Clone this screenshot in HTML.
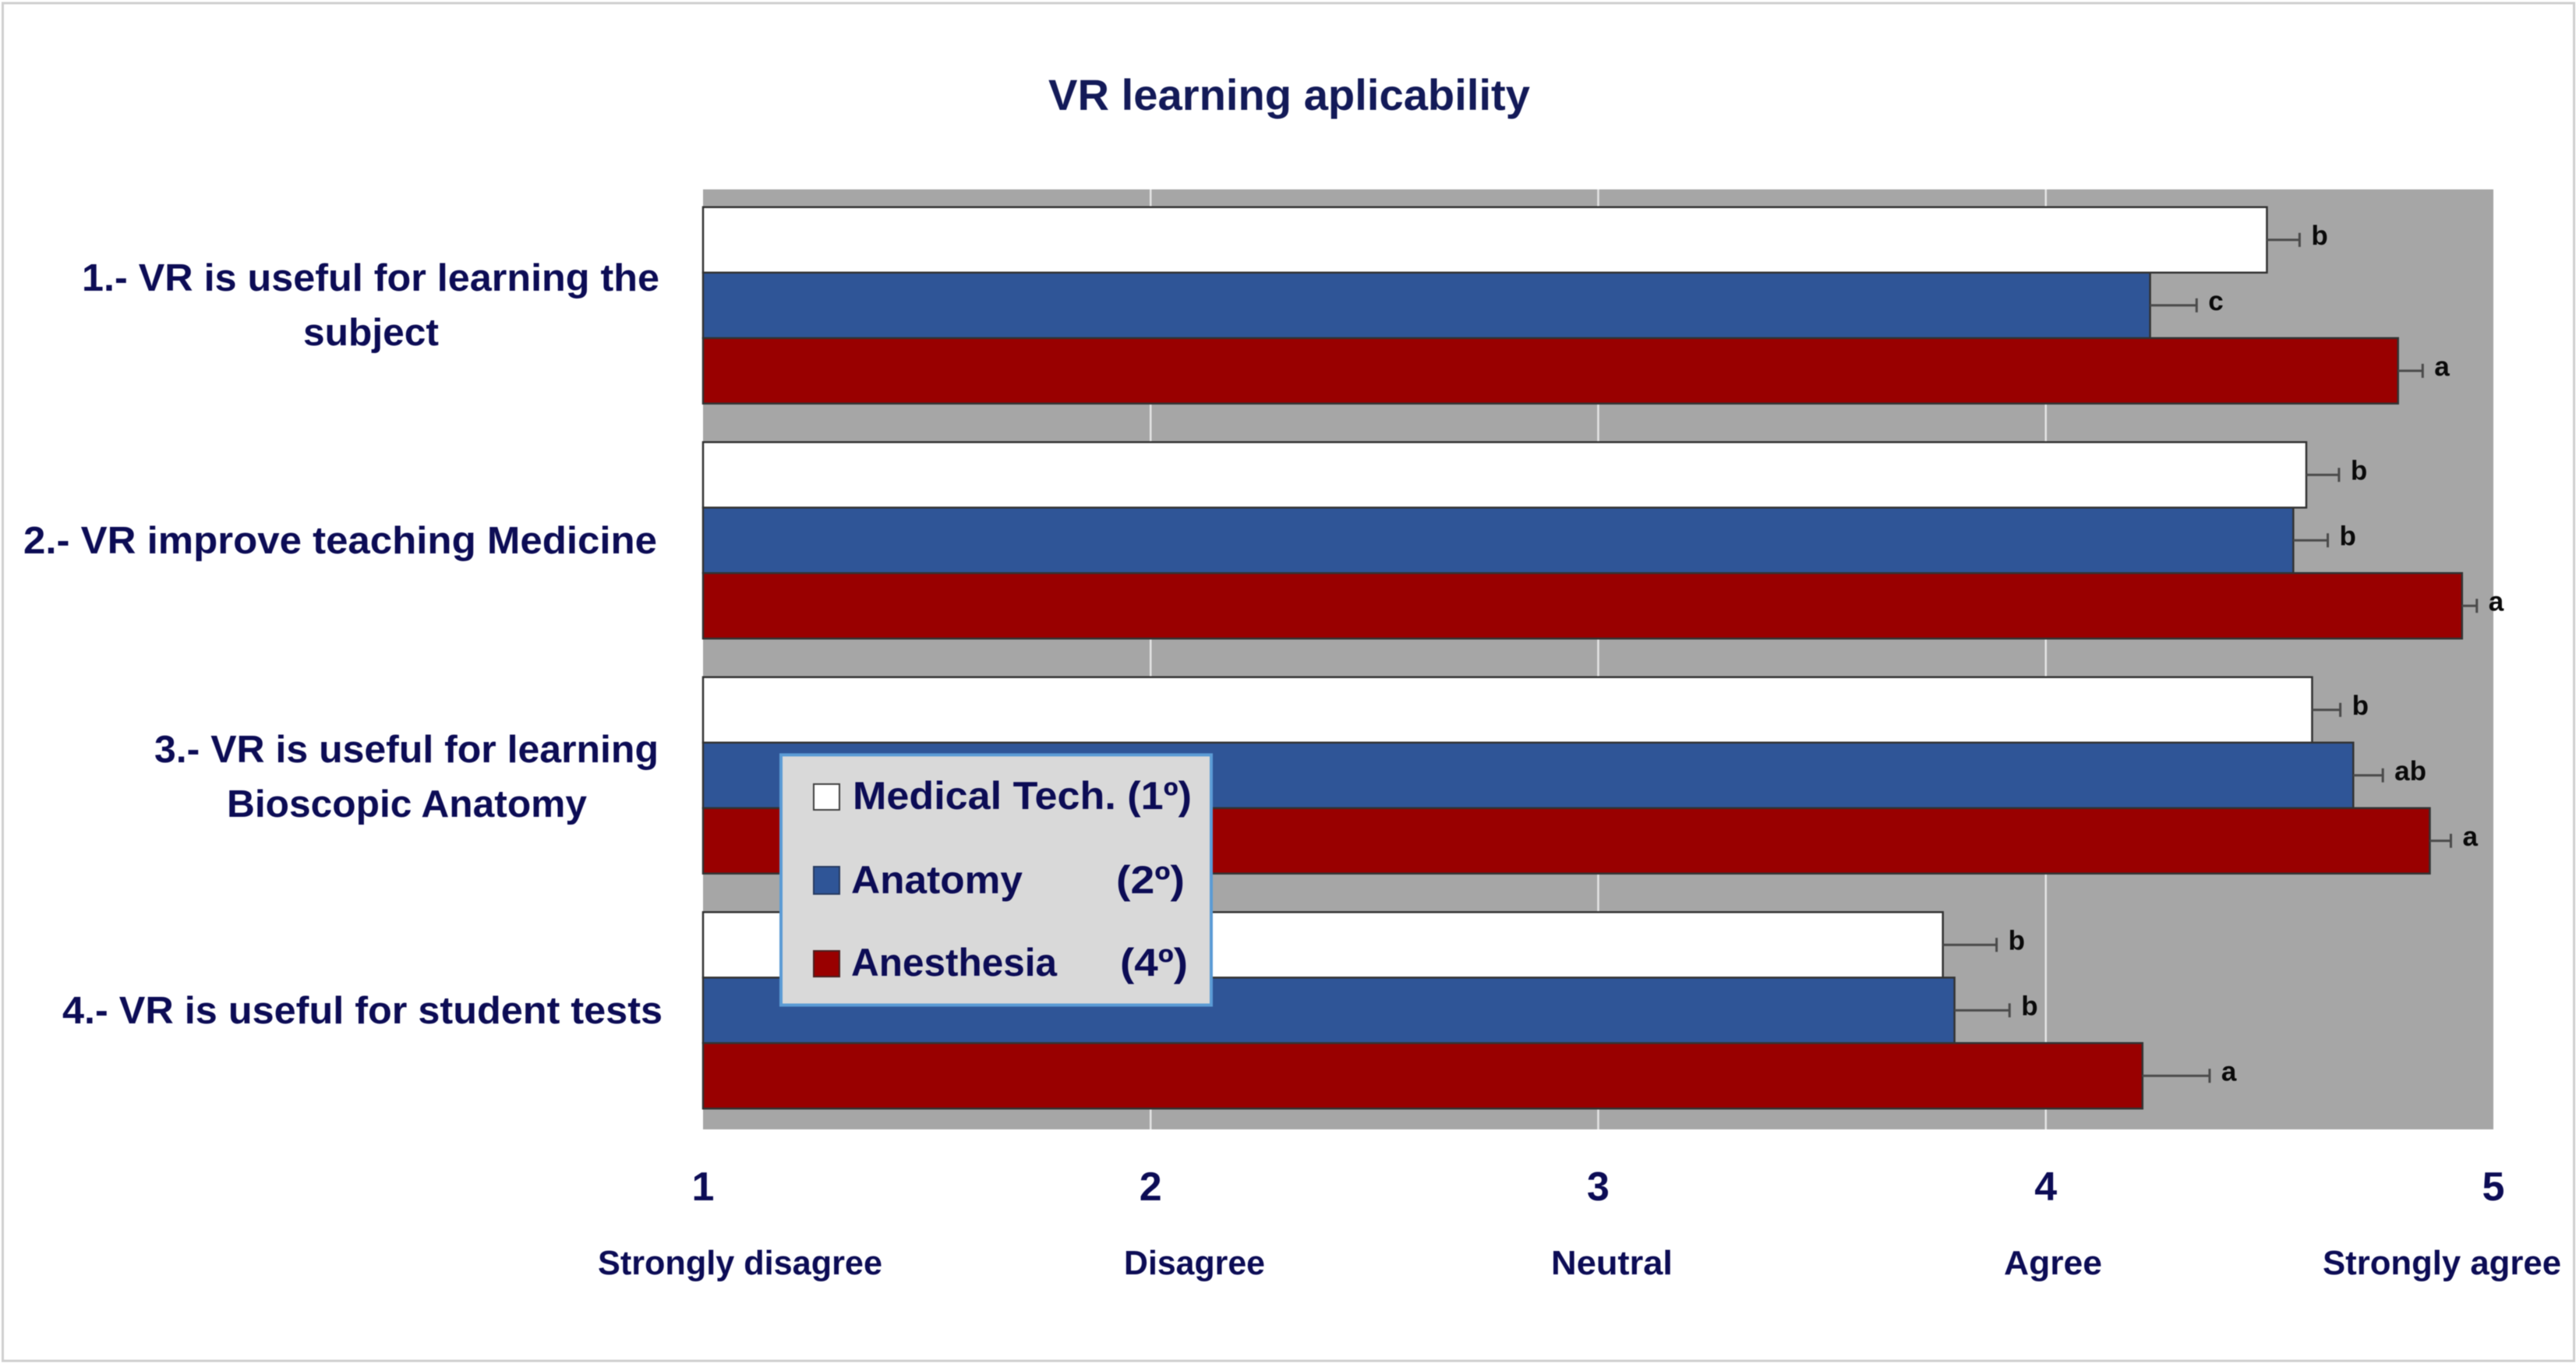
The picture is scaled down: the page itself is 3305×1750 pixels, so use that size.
<!DOCTYPE html>
<html lang="en">
<head>
<meta charset="utf-8">
<title>VR learning aplicability</title>
<style>
html,body{margin:0;padding:0;background:#fff;width:3305px;height:1750px;overflow:hidden}
svg{display:block;filter:blur(.6px)}
text{font-family:"Liberation Sans",sans-serif;font-weight:bold;fill:#0c0c55}
</style>
</head>
<body>
<svg id="chart" xmlns="http://www.w3.org/2000/svg" width="3305" height="1750" viewBox="0 0 3305 1750">
  <rect x="3.5" y="4" width="3299" height="1742" fill="#fff" stroke="#cfcfcf" stroke-width="3"/>
  <text x="1345" y="141" font-size="56" textLength="618" lengthAdjust="spacingAndGlyphs" style="fill:#131a58">VR learning aplicability</text>
  <rect x="902" y="243" width="2297" height="1206" fill="#a6a6a6"/>
  <g id="grid"></g>
  <g id="bars"></g>
  <g id="errors"></g>
  <g id="letters"></g>
  <g id="ticks"></g>

  <g font-size="49">
    <text x="105" y="373" textLength="741" lengthAdjust="spacingAndGlyphs">1.- VR is useful for learning the</text>
    <text x="389" y="443" textLength="174" lengthAdjust="spacingAndGlyphs">subject</text>
    <text x="30" y="710" textLength="813" lengthAdjust="spacingAndGlyphs">2.- VR improve teaching Medicine</text>
    <text x="198" y="978" textLength="647" lengthAdjust="spacingAndGlyphs">3.- VR is useful for learning</text>
    <text x="291" y="1048" textLength="462" lengthAdjust="spacingAndGlyphs">Bioscopic Anatomy</text>
    <text x="80" y="1313" textLength="770" lengthAdjust="spacingAndGlyphs">4.- VR is useful for student tests</text>
  </g>

  <g font-size="44">
    <text x="767" y="1635" textLength="365" lengthAdjust="spacingAndGlyphs">Strongly disagree</text>
    <text x="1442" y="1635" textLength="181" lengthAdjust="spacingAndGlyphs">Disagree</text>
    <text x="1990" y="1635" textLength="156" lengthAdjust="spacingAndGlyphs">Neutral</text>
    <text x="2571" y="1635" textLength="126" lengthAdjust="spacingAndGlyphs">Agree</text>
    <text x="2980" y="1635" textLength="306" lengthAdjust="spacingAndGlyphs">Strongly agree</text>
  </g>

  <g>
    <rect x="1002" y="968.5" width="552" height="321" fill="#d9d9d9" stroke="#5b9bd5" stroke-width="4"/>
    <rect x="1044" y="1006" width="33" height="33" fill="#fff" stroke="#404040" stroke-width="2"/>
    <rect x="1044" y="1112" width="33" height="35" fill="#2f5597" stroke="#263a60" stroke-width="2"/>
    <rect x="1044" y="1220" width="33" height="33" fill="#990000" stroke="#4a2020" stroke-width="2"/>
    <g font-size="50">
      <text x="1094" y="1038" textLength="435" lengthAdjust="spacingAndGlyphs">Medical Tech. (1º)</text>
      <text x="1092" y="1146" textLength="220" lengthAdjust="spacingAndGlyphs">Anatomy</text>
      <text x="1432" y="1146" textLength="88" lengthAdjust="spacingAndGlyphs">(2º)</text>
      <text x="1092" y="1252" textLength="264" lengthAdjust="spacingAndGlyphs">Anesthesia</text>
      <text x="1437" y="1252" textLength="87" lengthAdjust="spacingAndGlyphs">(4º)</text>
    </g>
  </g>
</svg>
<script>
const categories = ["q1", "q2", "q3", "q4"];
const seriesNames = ["medical-tech", "anatomy", "anesthesia"];
const medicalTech = [4.494, 4.582, 4.595, 3.77];
const anatomy = [4.233, 4.553, 4.687, 3.796];
const anesthesia = [4.787, 4.93, 4.858, 4.216];
const medicalTechErr = [0.073, 0.073, 0.063, 0.12];
const anatomyErr = [0.104, 0.077, 0.066, 0.123];
const anesthesiaErr = [0.055, 0.033, 0.047, 0.15];
const medicalTechLetters = ["b", "b", "b", "b"];
const anatomyLetters = ["c", "b", "ab", "b"];
const anesthesiaLetters = ["a", "a", "a", "a"];
const tickValues = [1, 2, 3, 4, 5];

const svgNS = "http://www.w3.org/2000/svg";
const plot = { left: 902, right: 3199, top: 241, bottom: 1447 };
const fills = ["#ffffff", "#2f5597", "#990000"];
const values = [medicalTech, anatomy, anesthesia];
const errors = [medicalTechErr, anatomyErr, anesthesiaErr];
const letters = [medicalTechLetters, anatomyLetters, anesthesiaLetters];
const barHeight = 84;

function xScale(v) {
  return plot.left + (v - 1) * (plot.right - plot.left) / 4;
}
function yBand(groupIndex, seriesIndex) {
  const band = (plot.bottom - plot.top) / categories.length;
  const pad = (band - barHeight * seriesNames.length) / 2;
  return plot.top + band * groupIndex + pad + barHeight * seriesIndex;
}
function make(tag, attrs, parentId) {
  const el = document.createElementNS(svgNS, tag);
  Object.keys(attrs).forEach(function (k) { el.setAttribute(k, attrs[k]); });
  document.getElementById(parentId).appendChild(el);
  return el;
}

tickValues.slice(1, -1).forEach(function (t) {
  const el = make("line", { x1: xScale(t), x2: xScale(t), y1: 243, y2: 1449, stroke: "#e4e4e4", "stroke-width": 2.5 }, "grid");
  
  
});

tickValues.forEach(function (t) {
  const el = make("text", { x: xScale(t), y: 1540, "text-anchor": "middle", "font-size": 52 }, "ticks");
  el.textContent = String(t);
  
  
});

categories.forEach(function (cat, g) {
  seriesNames.forEach(function (name, s) {
    const v = values[s][g];
    const top = yBand(g, s);
    const mid = top + barHeight / 2;
    const end = xScale(v);
    const errEnd = xScale(v + errors[s][g]);

    const bar = make("rect", { x: plot.left, y: top, width: end - plot.left, height: barHeight, fill: fills[s], stroke: "#333333", "stroke-width": 2.5 }, "bars");
    
    

    const whisker = make("line", { x1: end, x2: errEnd, y1: mid, y2: mid, stroke: "#4a4a4a", "stroke-width": 3 }, "errors");
    
    

    const cap = make("line", { x1: errEnd, x2: errEnd, y1: mid - 9, y2: mid + 9, stroke: "#4a4a4a", "stroke-width": 3 }, "errors");
    
    

    const label = make("text", { x: errEnd + 15, y: mid + 6, "font-size": 35, style: "fill:#0a0a0a" }, "letters");
    label.textContent = letters[s][g];
    
    
  });
});
</script>
</body>
</html>
